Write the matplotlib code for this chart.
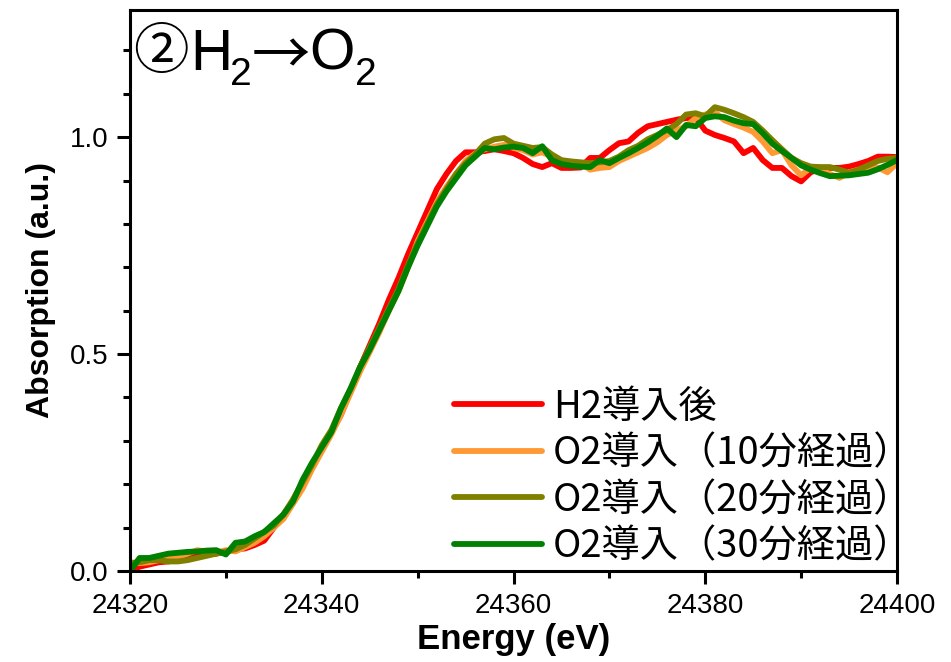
import numpy as np
import matplotlib
matplotlib.use("Agg")
import matplotlib.pyplot as plt
from matplotlib.ticker import MultipleLocator, FormatStrFormatter

plt.rcParams['font.family'] = ['Liberation Sans', 'Noto Sans CJK JP', 'DejaVu Sans']

# energy grid (eV), 1 eV step
energia = np.arange(24320, 24401, 1)

# H2 introduced
abs_h2 = [0.000, 0.010, 0.015, 0.020, 0.022, 0.025, 0.030, 0.033, 0.038, 0.040,
          0.045, 0.050, 0.052, 0.060, 0.070, 0.100, 0.130, 0.160, 0.195, 0.240,
          0.280, 0.320, 0.360, 0.415, 0.470, 0.520, 0.570, 0.625, 0.675, 0.730,
          0.780, 0.830, 0.880, 0.915, 0.945, 0.965, 0.965, 0.968, 0.972, 0.968,
          0.963, 0.952, 0.938, 0.931, 0.940, 0.929, 0.929, 0.930, 0.952, 0.952,
          0.970, 0.986, 0.990, 1.010, 1.025, 1.030, 1.035, 1.040, 1.044, 1.045,
          1.015, 1.005, 0.998, 0.990, 0.963, 0.975, 0.947, 0.929, 0.929, 0.910,
          0.898, 0.919, 0.927, 0.929, 0.929, 0.932, 0.938, 0.945, 0.955, 0.955,
          0.954]

# O2 introduced, 10 min
abs_o2_10 = [0.020, 0.018, 0.020, 0.025, 0.028, 0.032, 0.040, 0.048, 0.045, 0.042,
             0.048, 0.045, 0.055, 0.065, 0.080, 0.100, 0.120, 0.155, 0.190, 0.235,
             0.275, 0.315, 0.360, 0.410, 0.460, 0.505, 0.550, 0.600, 0.645, 0.700,
             0.760, 0.805, 0.850, 0.885, 0.915, 0.945, 0.962, 0.972, 0.978, 0.982,
             0.975, 0.970, 0.960, 0.965, 0.955, 0.945, 0.938, 0.940, 0.925, 0.929,
             0.931, 0.945, 0.955, 0.965, 0.975, 0.988, 1.005, 1.015, 1.025, 1.044,
             1.052, 1.058, 1.039, 1.030, 1.022, 1.012, 0.990, 0.963, 0.970, 0.935,
             0.912, 0.930, 0.925, 0.915, 0.906, 0.919, 0.925, 0.929, 0.930, 0.919,
             0.940]

# O2 introduced, 20 min
abs_o2_20 = [0.018, 0.020, 0.025, 0.025, 0.022, 0.022, 0.025, 0.030, 0.035, 0.040,
             0.045, 0.050, 0.060, 0.075, 0.090, 0.105, 0.130, 0.165, 0.205, 0.245,
             0.290, 0.325, 0.375, 0.420, 0.470, 0.515, 0.560, 0.605, 0.650, 0.705,
             0.755, 0.800, 0.845, 0.880, 0.915, 0.940, 0.960, 0.985, 0.995, 0.998,
             0.985, 0.980, 0.975, 0.977, 0.960, 0.947, 0.944, 0.942, 0.940, 0.942,
             0.945, 0.955, 0.970, 0.980, 0.995, 1.005, 1.016, 1.030, 1.052, 1.055,
             1.048, 1.069, 1.063, 1.055, 1.046, 1.035, 1.015, 0.993, 0.972, 0.952,
             0.940, 0.932, 0.931, 0.931, 0.925, 0.918, 0.925, 0.935, 0.945, 0.950,
             0.952]

# O2 introduced, 30 min
abs_o2_30 = [0.000, 0.030, 0.030, 0.035, 0.040, 0.042, 0.044, 0.045, 0.047, 0.048,
             0.038, 0.065, 0.068, 0.080, 0.090, 0.110, 0.130, 0.160, 0.210, 0.250,
             0.285, 0.320, 0.375, 0.420, 0.470, 0.510, 0.555, 0.600, 0.645, 0.700,
             0.750, 0.795, 0.840, 0.875, 0.905, 0.935, 0.955, 0.975, 0.972, 0.976,
             0.978, 0.975, 0.963, 0.979, 0.947, 0.938, 0.934, 0.932, 0.931, 0.947,
             0.940, 0.952, 0.963, 0.975, 0.988, 1.003, 1.020, 1.000, 1.028, 1.025,
             1.044, 1.048, 1.046, 1.038, 1.032, 1.030, 1.009, 0.985, 0.968, 0.952,
             0.935, 0.925, 0.917, 0.910, 0.911, 0.912, 0.915, 0.918, 0.926, 0.936,
             0.947]

series = [
    ('H2導入後', abs_h2, '#FF0000'),
    ('O2導入（10分経過）', abs_o2_10, '#FF9933'),
    ('O2導入（20分経過）', abs_o2_20, '#808000'),
    ('O2導入（30分経過）', abs_o2_30, '#008000'),
]

fig = plt.figure(figsize=(9.51, 6.62), dpi=100)
ax = fig.add_axes([130 / 951, 1 - 571 / 662, 767 / 951, 561 / 662])

for rotulo, valores, cor in series:
    ax.plot(energia, valores, color=cor, linewidth=4.2, label=rotulo,
            solid_capstyle='round', solid_joinstyle='round')

ax.set_xlim(24320, 24400)
ax.set_ylim(0, 1.293)
ax.xaxis.set_major_locator(MultipleLocator(20))
ax.xaxis.set_minor_locator(MultipleLocator(10))
ax.yaxis.set_major_locator(MultipleLocator(0.5))
ax.yaxis.set_minor_locator(MultipleLocator(0.1))
ax.yaxis.set_major_formatter(FormatStrFormatter('%.1f'))

for lado in ax.spines.values():
    lado.set_linewidth(2.2)
ax.tick_params(which='major', direction='out', length=9.5, width=2.2,
               labelsize=20, pad=6)
ax.tick_params(which='minor', direction='out', length=5, width=2.2)
ax.tick_params(top=False, right=False, which='both')

ax.set_xlabel('Energy (eV)', fontsize=25, fontweight='bold', labelpad=3)
ax.set_ylabel('Absorption (a.u.)', fontsize=23, fontweight='bold', labelpad=10)

# the closing full-width bracket leaves blank space on the right, so the
# legend box is pushed slightly past the axes edge
leg = ax.legend(loc='lower right', bbox_to_anchor=(1.033, -0.009), frameon=False,
                prop={'family': ['Noto Sans CJK JP'], 'size': 27.5},
                handlelength=2.3, handletextpad=0.3,
                labelspacing=0.2, borderaxespad=0.1, borderpad=0.15)

# panel label: ②H2→O2
fs = 42
fig.text(133 / 951, 1 - 69 / 662, '②', fontsize=40, family=['Noto Sans CJK JP'],
         va='baseline', ha='left')
fig.text(190 / 951, 1 - 70 / 662, 'H', fontsize=fs, va='baseline', ha='left')
fig.text(230 / 951, 1 - 85 / 662, '2', fontsize=28, va='baseline', ha='left')
fig.text(252 / 951, 1 - 74 / 662, '→', fontsize=fs, family=['Noto Sans CJK JP'],
         va='baseline', ha='left')
fig.text(309 / 951, 1 - 70 / 662, 'O', fontsize=fs, va='baseline', ha='left')
fig.text(355 / 951, 1 - 85 / 662, '2', fontsize=28, va='baseline', ha='left')

fig.savefig('out.png', dpi=100)
